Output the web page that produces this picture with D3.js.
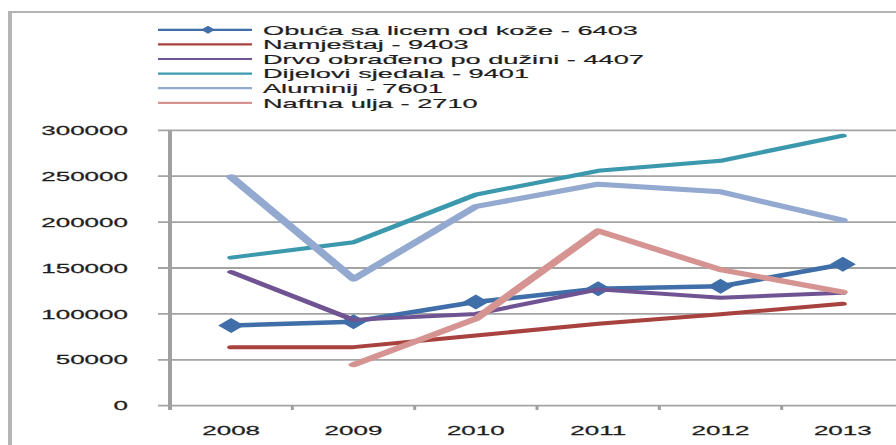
<!DOCTYPE html>
<html><head><meta charset="utf-8">
<script src="https://cdn.jsdelivr.net/npm/d3@7"></script>
<style>body{margin:0;background:#fff;}svg{display:block;}</style>
</head><body>
<svg id="c" width="896" height="445"></svg>
<script>
const years = ["2008", "2009", "2010", "2011", "2012", "2013"];
const yTicks = [0, 50000, 100000, 150000, 200000, 250000, 300000];
const seriesNames = ["Obuća sa licem od kože - 6403", "Namještaj - 9403", "Drvo obrađeno po dužini - 4407", "Dijelovi sjedala - 9401", "Aluminij - 7601", "Naftna ulja - 2710"];
const obuca = [87400, 91500, 113000, 127400, 130000, 154000];
const namjestaj = [63700, 63800, 76500, 89200, 99700, 111000];
const drvo = [145600, 93500, 100000, 126700, 117600, 123000];
const dijelovi = [161300, 178000, 230000, 255900, 266800, 294100];
const aluminij = [249300, 138000, 217000, 241300, 233000, 202000];
const naftna = [null, 44700, 94600, 190400, 148200, 123700];

const colors = ["#3F6EA8", "#A8423F", "#6F5392", "#3C99AD", "#93A9D0", "#D59491"];
const widths = [4.5, 4, 4, 4, 5, 5];
const allSeries = [obuca, namjestaj, drvo, dijelovi, aluminij, naftna];

const SX = 2; // horizontal stretch of the picture
const svg = d3.select("#c");
const g = svg.append("g").attr("transform", `scale(${SX},1)`);
const font = "'Liberation Sans', Arial, sans-serif";

// outer border
g.append("rect").attr("x", 5).attr("y", 12).attr("width", 600).attr("height", 600)
  .attr("fill", "none").attr("stroke", "#b4b4b4").attr("stroke-width", 2);

const x = d3.scalePoint().domain(years).range([170 / SX, 904 / SX]).padding(0.5);
const y = d3.scaleLinear().domain([0, 300000]).range([405.7, 130.3]);
const bandStep = x.step();

// grid lines + y ticks
g.selectAll("line.grid").data(yTicks).enter().append("line")
  .attr("x1", 158 / SX).attr("x2", 1000 / SX)
  .attr("y1", d => y(d)).attr("y2", d => y(d))
  .attr("stroke", "#a3a3a3").attr("stroke-width", 1.8);

// y axis line
g.append("line").attr("x1", 170 / SX).attr("x2", 170 / SX)
  .attr("y1", y(300000)).attr("y2", 410).attr("stroke", "#a0a0a0").attr("stroke-width", 2);

// x tick marks at category boundaries
const bounds = years.slice(1).map(d => x(d) - bandStep / 2);
g.selectAll("line.xt").data(bounds).enter().append("line")
  .attr("x1", d => d).attr("x2", d => d).attr("y1", y(0)).attr("y2", 410)
  .attr("stroke", "#a0a0a0").attr("stroke-width", 1.5);

// y labels
g.selectAll("text.yl").data(yTicks).enter().append("text")
  .attr("x", 128 / SX).attr("y", d => y(d) + 4.7)
  .attr("text-anchor", "end").attr("font-family", font).attr("font-size", 13)
  .attr("fill", "#1e1e1e").attr("stroke", "#1e1e1e").attr("stroke-width", 0.25)
  .text(d => d3.format("d")(d));

// x labels
g.selectAll("text.xl").data(years).enter().append("text")
  .attr("x", d => x(d)).attr("y", 435)
  .attr("text-anchor", "middle").attr("font-family", font).attr("font-size", 13)
  .attr("fill", "#1e1e1e").attr("stroke", "#1e1e1e").attr("stroke-width", 0.25)
  .text(d => d);

// series lines
const line = d3.line().defined(d => d.v != null).x(d => x(d.k)).y(d => y(d.v));
allSeries.forEach((s, i) => {
  const pts = years.map((k, j) => ({k, v: s[j]}));
  g.append("path").datum(pts).attr("d", line)
    .attr("fill", "none").attr("stroke", colors[i]).attr("stroke-width", widths[i])
    .attr("stroke-linejoin", "round").attr("stroke-linecap", "round");
  if (i === 0) {
    g.selectAll("path.mk").data(pts).enter().append("path")
      .attr("d", d => `M${x(d.k) - 6.5},${y(d.v)} L${x(d.k)},${y(d.v) - 7.5} L${x(d.k) + 6.5},${y(d.v)} L${x(d.k)},${y(d.v) + 7.5}Z`)
      .attr("fill", colors[0]);
  }
});

// legend
const legY0 = 29.8, legStep = 14.6;
seriesNames.forEach((name, i) => {
  const ly = legY0 + i * legStep;
  g.append("line").attr("x1", 158 / SX).attr("x2", 252 / SX).attr("y1", ly).attr("y2", ly)
    .attr("stroke", colors[i]).attr("stroke-width", 2.2);
  if (i === 0) {
    const cx = 208 / SX;
    g.append("path").attr("d", `M${cx - 3.5},${ly} L${cx},${ly - 4} L${cx + 3.5},${ly} L${cx},${ly + 4}Z`).attr("fill", colors[0]);
  }
  g.append("text").attr("x", 263 / SX).attr("y", ly + 4.8)
    .attr("font-family", font).attr("font-size", 13.6).attr("fill", "#1e1e1e")
    .attr("stroke", "#1e1e1e").attr("stroke-width", 0.2).text(name);
});
</script>
</body></html>
